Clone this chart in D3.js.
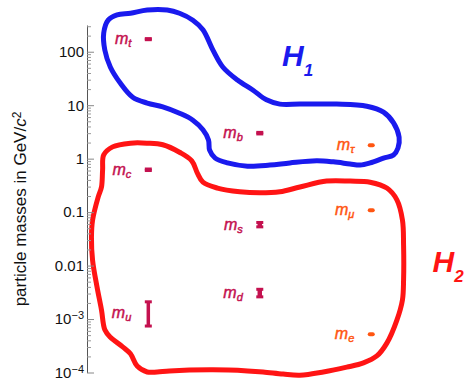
<!DOCTYPE html>
<html>
<head>
<meta charset="utf-8">
<script src="https://cdn.jsdelivr.net/npm/d3@7"></script>
<style>
  body { margin: 0; background: #fff; }
  svg { display: block; font-family: 'Liberation Sans', Arial, sans-serif; }
</style>
</head>
<body>
<div id="chart"></div>
<script>
// columns: 1 = up-type quarks, 2 = down-type quarks, 3 = charged leptons
const quarkNames = ['t', 'c', 'u', 'b', 's', 'd']
const quarkColumn = [1, 1, 1, 2, 2, 2]
const quarkMass = [172, 0.62, 0.0013, 3.0, 0.058, 0.0031]
const quarkLow = [168, 0.60, 0.00074, 2.9, 0.053, 0.0026]
const quarkHigh = [176, 0.64, 0.0021, 3.1, 0.064, 0.0036]

const leptonNames = ['τ', 'μ', 'e']
const leptonColumn = [3, 3, 3]
const leptonMass = [1.78, 0.108, 0.00052]

const yTicks = [1e-4, 1e-3, 0.01, 0.1, 1, 10, 100]
const yTickLabels = [['10', '−4'], ['10', '−3'], ['0.01'], ['0.1'], ['1'], ['10'], ['100']]

// group outlines as [column, log10 of mass]
const h1Outline = [
  [0.60, 2.35], [0.64, 2.59], [0.72, 2.69], [0.84, 2.72], [0.99, 2.78], [1.17, 2.78],
  [1.28, 2.72], [1.40, 2.59], [1.49, 2.41], [1.58, 2.03], [1.67, 1.71], [1.80, 1.47],
  [1.94, 1.28], [2.06, 1.10], [2.18, 1.02], [2.36, 1.02], [2.69, 1.02], [2.96, 0.98],
  [3.11, 0.87], [3.20, 0.67], [3.25, 0.40], [3.24, 0.20], [3.20, 0.07], [3.11, 0.01],
  [2.99, -0.08], [2.90, -0.12], [2.81, -0.10], [2.66, -0.06], [2.51, -0.04], [2.27, -0.08],
  [2.09, -0.12], [1.89, -0.14], [1.71, -0.08], [1.60, 0.01], [1.55, 0.16], [1.54, 0.35],
  [1.49, 0.54], [1.40, 0.72], [1.28, 0.85], [1.13, 0.97], [0.99, 1.04], [0.86, 1.15],
  [0.75, 1.41], [0.66, 1.71], [0.61, 2.03]
]
const h2Outline = [
  [0.60, 0.07], [0.68, 0.22], [0.84, 0.29], [0.99, 0.29], [1.13, 0.26], [1.28, 0.12],
  [1.39, -0.04], [1.44, -0.27], [1.49, -0.44], [1.62, -0.55], [1.82, -0.62], [2.00, -0.64],
  [2.18, -0.62], [2.36, -0.53], [2.60, -0.42], [2.81, -0.42], [2.99, -0.44], [3.14, -0.55],
  [3.23, -0.77], [3.28, -1.15], [3.29, -1.62], [3.29, -2.27], [3.28, -2.64], [3.23, -3.02],
  [3.14, -3.45], [3.05, -3.69], [2.93, -3.82], [2.78, -3.90], [2.57, -3.99], [2.36, -4.05],
  [2.21, -4.03], [2.03, -3.99], [1.89, -3.97], [1.58, -3.95], [1.19, -3.97], [1.08, -3.99],
  [0.99, -3.99], [0.90, -3.88], [0.84, -3.65], [0.77, -3.52], [0.66, -3.34], [0.61, -3.20],
  [0.58, -2.83], [0.54, -2.40], [0.50, -1.90], [0.49, -1.47], [0.50, -1.15], [0.55, -0.72],
  [0.58, -0.53], [0.59, -0.21]
]

const groupNames = [['H', '1'], ['H', '2']]
const groupLabelColumn = [2.20, 3.55]
const groupLabelMass = [54, 0.0076]

const width = 466
const height = 380
const quarkColor = '#c4114f'
const leptonColor = '#ff5511'
const groupColors = ['#1a1aee', '#ff1414']

const svg = d3.select('#chart')
  .append('svg')
  .attr('width', width)
  .attr('height', height)

const x = d3.scaleLinear().domain([0.45, 3.85]).range([87, 466])
const y = d3.scaleLog().domain([1e-4, Math.pow(10, 2.5)]).range([372.5, 25])

// outlines
const outline = d3.line()
  .x(d => x(d[0]))
  .y(d => y(Math.pow(10, d[1])))
  .curve(d3.curveCatmullRomClosed.alpha(0.5))

;[h1Outline, h2Outline].forEach((pts, i) => {
  svg.append('path')
    .attr('d', outline(pts))
    .attr('fill', 'none')
    .attr('stroke', groupColors[i])
    .attr('stroke-width', 5)
    .attr('stroke-linejoin', 'round')
})

// axis
const minorTicks = []
for (let k = -4; k <= 2; k++) {
  for (let m = 2; m <= 9; m++) {
    const v = m * Math.pow(10, k)
    if (v <= Math.pow(10, 2.5)) minorTicks.push(v)
  }
}

const axisG = svg.append('g').attr('transform', `translate(${x(0.45)},0)`)
axisG.call(d3.axisLeft(y).tickValues(minorTicks).tickSize(-4).tickSizeOuter(0).tickFormat(() => ''))
axisG.selectAll('.tick line').attr('stroke', '#999')
axisG.select('.domain').attr('stroke', '#555')

const majorG = svg.append('g').attr('transform', `translate(${x(0.45)},0)`)
majorG.call(d3.axisLeft(y).tickValues(yTicks).tickSize(-7).tickSizeOuter(0).tickPadding(3).tickFormat(() => ''))
majorG.select('.domain').remove()
majorG.selectAll('.tick line').attr('stroke', '#888')
majorG.selectAll('.tick text')
  .attr('fill', '#111')
  .attr('font-size', 15)
  .attr('font-family', 'Liberation Sans, Arial, sans-serif')
  .each(function (d, i) {
    const parts = yTickLabels[i]
    const t = d3.select(this)
    t.append('tspan').text(parts[0])
    if (parts[1]) {
      t.append('tspan').attr('dy', '-0.45em').attr('font-size', 11).text(parts[1])
    }
  })

// y title
const title = svg.append('text')
  .attr('transform', 'translate(26,209) rotate(-90)')
  .attr('text-anchor', 'middle')
  .attr('font-size', 17)
  .attr('fill', '#111')
title.append('tspan').text('particle masses in GeV/')
title.append('tspan').attr('font-style', 'italic').text('c')
title.append('tspan').attr('dy', '-0.45em').attr('font-size', 12).text('2')

// quark error bars
quarkNames.forEach((name, i) => {
  const cx = x(quarkColumn[i])
  svg.append('line')
    .attr('x1', cx).attr('x2', cx)
    .attr('y1', y(quarkLow[i])).attr('y2', y(quarkHigh[i]))
    .attr('stroke', quarkColor)
    .attr('stroke-width', i === 2 ? 3.5 : 4.5)
  ;[quarkLow[i], quarkHigh[i]].forEach(v => {
    svg.append('rect')
      .attr('x', cx - 3.5).attr('y', y(v) - 1.5)
      .attr('width', 7).attr('height', 3)
      .attr('fill', quarkColor)
  })
})

// lepton points
leptonNames.forEach((name, i) => {
  svg.append('rect')
    .attr('x', x(leptonColumn[i]) - 3.5)
    .attr('y', y(leptonMass[i]) - 2)
    .attr('width', 7).attr('height', 4)
    .attr('rx', 2)
    .attr('fill', leptonColor)
})

function massLabel (name, col, mass, color) {
  const t = svg.append('text')
    .attr('x', x(col) - 17)
    .attr('y', y(mass) + 5)
    .attr('text-anchor', 'end')
    .attr('font-style', 'italic')
    .attr('font-size', 16)
    .attr('fill', color)
    .attr('stroke', color)
    .attr('stroke-width', 0.45)
  t.append('tspan').text('m')
  t.append('tspan').attr('dy', 3).attr('font-size', 11).text(name)
}
quarkNames.forEach((n, i) => massLabel(n, quarkColumn[i], quarkMass[i], quarkColor))
leptonNames.forEach((n, i) => massLabel(n, leptonColumn[i], leptonMass[i], leptonColor))

// group labels
groupNames.forEach((g, i) => {
  const t = svg.append('text')
    .attr('x', x(groupLabelColumn[i]))
    .attr('y', y(groupLabelMass[i]))
    .attr('font-style', 'italic')
    .attr('font-weight', 'bold')
    .attr('font-size', 30)
    .attr('fill', groupColors[i])
  t.append('tspan').text(g[0])
  t.append('tspan').attr('dy', 10).attr('font-size', 17).text(g[1])
})
</script>
</body>
</html>
